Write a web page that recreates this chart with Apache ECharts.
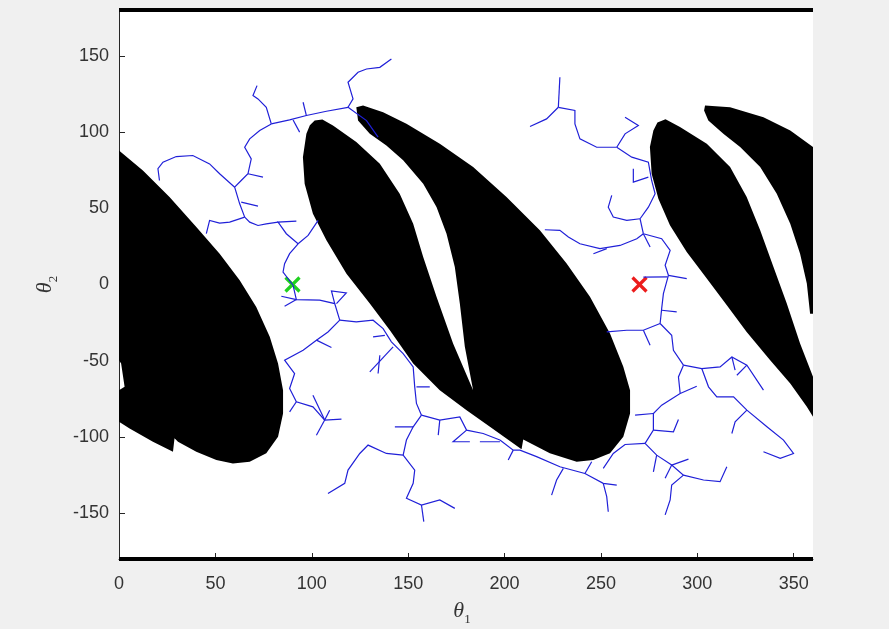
<!DOCTYPE html>
<html>
<head>
<meta charset="utf-8">
<script src="https://cdn.jsdelivr.net/npm/echarts@6/dist/echarts.min.js"></script>
<style>
  html, body { margin: 0; padding: 0; background: #f0f0f0; }
  #chart { width: 889px; height: 629px; }
</style>
</head>
<body>
<div id="chart"></div>
<script>
// tick positions
const xTicks = [0, 50, 100, 150, 200, 250, 300, 350];
const yTicks = [-150, -100, -50, 0, 50, 100, 150];

// start / goal configurations
const startPoint = [90, 0];
const goalPoint = [270, 0];

// obstacle regions in (theta1, theta2)
const leftBlob = [
  [0, 87.9], [12.4, 74.8], [26.2, 57.3], [40.1, 37.7], [52.2, 20.2], [62.6, 2.8], [71.2, -14.7],
  [78.2, -34.3], [82.5, -51.8], [85.1, -69.3], [85.1, -84.6], [82.5, -99.8], [76.4, -110.7],
  [67.8, -116.2], [59.1, -117.3], [50.5, -115.1], [40.1, -109.7], [30.6, -103.1], [28.8, -100.9],
  [28.0, -109.7], [17.6, -103.1], [5.5, -94.4], [0, -90.0], [0, -69.3], [2.9, -67.1], [1.1, -51.8],
  [0, -49.6]
];
const middleBlob = [
  [105.5, 108.2], [101.5, 107.6], [99.0, 104.5], [97.2, 98.8], [95.4, 83.5], [96.3, 66.1], [100.6, 46.4], [107.6, 29.0], [118.0, 7.1],
  [130.1, -12.5], [140.5, -30.0], [152.6, -51.8], [166.4, -69.3], [180.3, -82.4], [192.4, -93.3],
  [208.8, -108.1], [209.7, -101.6], [223.5, -110.7], [237.4, -116.2], [246.0, -115.1], [254.7, -110.7],
  [261.6, -99.8], [265.1, -84.6], [265.1, -69.3], [261.6, -54.0], [254.7, -32.2], [244.3, -8.1],
  [232.2, 13.7], [218.3, 35.5], [201.0, 57.3], [183.7, 77.0], [166.4, 92.3], [149.1, 105.4],
  [137.0, 113.0], [126.6, 117.4], [123.1, 116.3],
  [124.0, 107.6], [130.1, 98.8], [138.7, 91.2], [147.4, 81.4], [157.8, 66.1], [164.7, 50.8],
  [169.9, 33.3], [174.2, 11.5], [176.8, -12.5], [179.4, -40.9], [183.7, -69.3],
  [173.3, -38.7], [164.7, -8.1], [157.8, 18.0], [152.6, 39.9], [145.6, 59.5], [135.3, 79.2],
  [123.1, 93.4], [111.0, 104.3]
];
const rightLobeOuter = [
  [304.0, 117.4], [317.0, 116.3], [334.3, 109.7], [348.2, 101.0], [360, 90.1], [360, -19.1],
  [358.5, -19.1], [356.8, 0.6], [353.3, 20.2], [348.2, 39.9], [341.2, 59.5], [332.6, 77.0],
  [322.2, 90.1], [313.5, 98.8], [305.7, 107.6], [303.5, 114.1]
];
const rightLobeInner = [
  [283.5, 108.4], [291.0, 103.2], [304.9, 92.3], [317.0, 77.0], [325.6, 57.3], [332.6, 35.5],
  [339.5, 11.5], [346.4, -12.5], [353.3, -38.7], [360, -60.5], [360, -86.7], [356.8, -80.2],
  [348.2, -64.9], [337.8, -49.6], [325.6, -31.1], [315.3, -13.6], [304.9, 3.9], [294.5, 21.3],
  [285.8, 38.8], [279.8, 56.3], [276.3, 72.6], [275.4, 90.1], [277.2, 101.0], [279.3, 106.2]
];
const obstacles = [leftBlob, middleBlob, rightLobeOuter, rightLobeInner];

// joint-limit rows at theta2 = +-180
const limitRows = [
  [[0, 180], [360, 180]],
  [[0, -180], [360, -180]]
];

// RRT tree branches
const treeBranches = [
  [[90.3, -0.5], [85.1, 8.2], [85.9, 13.6], [88.5, 20.2], [92.9, 26.7]],
  [[92.9, 26.7], [98.1, 32.2], [103.3, 42.0]],
  [[92.9, 26.7], [86.8, 33.3], [82.5, 40.9], [92.0, 41.6]],
  [[82.5, 40.9], [76.4, 39.8], [72.1, 38.7], [67.8, 40.9], [65.2, 44.2]],
  [[65.2, 44.2], [57.4, 40.9], [52.2, 40.3], [47.0, 42.0], [45.3, 33.3]],
  [[65.2, 44.2], [62.6, 52.9], [60.0, 63.8], [63.4, 68.2], [66.9, 72.6], [68.6, 82.4], [65.2, 90.0], [67.8, 95.5], [73.0, 101.0], [79.0, 105.3]],
  [[63.4, 54.0], [72.1, 51.4]],
  [[66.9, 72.6], [74.7, 70.4]],
  [[60.0, 63.8], [52.2, 72.6], [47.0, 79.1], [38.3, 84.6], [29.7, 83.9], [22.8, 80.2], [20.2, 75.9], [21.0, 68.2]],
  [[79.0, 105.3], [88.5, 107.9], [97.2, 110.8], [107.6, 113.6], [118.8, 116.2]],
  [[118.8, 116.2], [121.4, 121.7], [118.8, 132.6], [124.0, 139.2], [128.4, 141.3], [135.3, 142.4], [141.3, 147.9]],
  [[118.8, 116.2], [128.4, 107.5], [134.4, 96.6]],
  [[79.0, 105.3], [76.4, 116.2], [72.1, 121.7], [69.5, 123.9], [71.6, 130.4]],
  [[90.3, 107.9], [93.7, 99.9]],
  [[97.2, 110.8], [95.5, 119.5]],

  [[90.3, -0.5], [92.0, -9.9], [104.1, -10.3], [111.9, -12.5], [114.5, -23.4]],
  [[84.2, -7.7], [92.0, -9.9]],
  [[85.9, -14.3], [92.0, -9.9]],
  [[111.9, -12.5], [110.2, -4.2], [117.9, -5.5], [112.8, -12.5]],
  [[114.5, -23.4], [123.1, -24.5], [131.8, -23.4], [137.0, -28.9], [141.3, -37.6], [147.4, -45.3], [152.6, -54.0], [153.4, -67.1], [154.3, -78.0], [156.9, -85.7]],
  [[154.3, -67.1], [161.2, -67.1]],
  [[131.8, -34.4], [137.9, -33.3]],
  [[142.2, -40.9], [130.1, -57.3]],
  [[135.3, -46.4], [134.4, -58.4]],
  [[114.5, -23.4], [108.4, -31.1], [102.4, -36.5], [95.5, -43.1], [85.9, -49.6], [91.1, -58.4], [88.5, -68.2], [92.0, -76.9], [100.6, -80.2], [106.7, -88.9], [115.4, -88.3]],
  [[102.4, -36.5], [110.2, -41.3]],
  [[92.0, -76.9], [88.5, -83.5]],
  [[100.6, -72.6], [106.7, -88.9]],
  [[106.7, -88.9], [102.4, -98.8]],
  [[106.7, -88.9], [109.3, -82.4]],
  [[156.9, -85.7], [166.4, -88.9], [176.8, -86.8], [180.3, -95.5], [188.9, -97.7], [197.6, -102.0]],
  [[166.4, -88.9], [165.6, -98.8]],
  [[180.3, -95.5], [173.3, -103.1], [182.0, -103.1]],
  [[187.2, -103.1], [197.6, -103.1]],
  [[156.9, -85.7], [152.6, -93.3], [149.1, -102.0], [147.4, -111.9]],
  [[152.6, -93.3], [143.1, -93.3]],
  [[147.4, -111.9], [138.7, -110.8], [129.2, -105.3], [124.9, -110.8], [118.8, -121.7], [117.1, -130.4], [108.4, -137.0]],
  [[147.4, -111.9], [153.4, -121.7], [152.6, -130.4], [149.1, -140.2], [156.9, -144.6], [166.4, -141.3], [174.2, -146.8]],
  [[156.9, -144.6], [158.1, -155.5]],

  [[197.6, -102.0], [204.5, -108.6], [208.0, -108.6], [216.6, -112.9], [228.7, -119.5], [241.7, -123.9], [251.2, -130.4], [258.2, -131.5]],
  [[241.7, -123.9], [245.2, -116.2]],
  [[251.2, -130.4], [253.0, -139.1], [253.8, -149.0]],
  [[230.5, -120.6], [227.0, -128.2], [224.4, -138.1]],
  [[204.5, -108.6], [201.9, -115.1]],

  [[228.7, 135.9], [227.9, 116.2]],
  [[227.9, 116.2], [221.8, 108.6], [213.2, 103.6]],
  [[227.9, 116.2], [236.5, 114.1], [236.5, 105.3], [239.1, 95.5], [247.8, 90.0], [258.2, 90.0]],
  [[258.2, 90.0], [262.5, 98.8], [269.4, 104.2], [262.5, 109.7]],
  [[258.2, 90.0], [266.0, 83.5], [274.6, 80.2], [276.3, 68.2], [278.1, 59.5], [274.6, 50.7], [270.3, 43.1]],
  [[274.6, 70.4], [266.8, 67.1], [266.8, 75.9]],
  [[270.3, 43.1], [263.4, 42.0], [256.4, 44.2], [253.8, 50.7], [255.6, 58.4]],
  [[270.3, 43.1], [272.0, 33.3]],
  [[272.0, 33.3], [275.5, 24.6]],
  [[272.0, 33.3], [281.5, 30.0], [285.9, 22.4], [283.3, 12.6], [285.0, 6.0], [282.4, -6.0], [281.5, -15.8], [280.7, -25.6]],
  [[285.0, 6.0], [294.5, 3.8]],
  [[284.6, 5.0], [272.0, 4.9]],
  [[281.5, -16.9], [289.3, -18.0]],
  [[272.0, 33.3], [268.6, 30.0], [259.9, 25.6], [249.5, 23.5], [239.1, 26.7], [233.1, 31.1], [228.7, 35.5], [220.9, 35.9]],
  [[253.0, 23.5], [246.1, 20.2]],
  [[280.7, -25.6], [272.0, -30.0], [263.4, -30.0], [253.0, -31.1]],
  [[272.0, -30.0], [275.5, -39.8]],
  [[280.7, -25.6], [286.7, -33.3], [287.6, -43.1], [292.8, -52.9]],
  [[292.8, -52.9], [302.3, -55.1], [311.8, -54.0], [317.9, -47.5], [325.7, -52.9], [334.3, -69.3]],
  [[317.9, -47.5], [319.6, -56.2]],
  [[325.7, -52.9], [320.5, -59.5]],
  [[302.3, -55.1], [305.8, -67.1], [310.1, -73.7], [318.8, -73.7], [325.7, -82.4], [336.1, -93.3], [344.7, -102.0], [349.9, -110.8], [343.0, -114.0], [334.3, -109.7]],
  [[325.7, -82.4], [319.6, -90.0], [317.9, -97.7]],
  [[292.8, -52.9], [290.2, -60.6], [291.1, -71.5], [281.5, -79.1], [277.2, -84.6], [277.2, -95.5], [272.9, -104.2]],
  [[291.1, -71.5], [299.7, -66.7]],
  [[277.2, -84.6], [267.7, -85.7]],
  [[277.2, -95.5], [287.6, -96.6], [290.2, -88.5]],
  [[272.9, -104.2], [262.5, -104.9], [256.4, -110.8], [251.2, -120.6]],
  [[272.9, -104.2], [278.9, -111.9], [286.7, -118.4], [292.8, -125.0], [303.2, -128.2], [311.8, -129.3], [315.3, -119.5]],
  [[278.9, -111.9], [277.2, -122.8]],
  [[286.7, -118.4], [283.3, -127.1]],
  [[286.7, -118.4], [295.4, -114.5]],
  [[292.8, -125.0], [286.7, -131.5], [285.9, -141.3], [283.3, -151.1]]
];

const textColor = '#333333';
const axisColor = '#262626';

function crossMarker(color) {
  return function (params, api) {
    const c = api.coord([api.value(0), api.value(1)]);
    const h = 7;
    const style = { stroke: color, lineWidth: 3.2 };
    return {
      type: 'group',
      children: [
        { type: 'line', shape: { x1: c[0] - h, y1: c[1] - h, x2: c[0] + h, y2: c[1] + h }, style: style },
        { type: 'line', shape: { x1: c[0] - h, y1: c[1] + h, x2: c[0] + h, y2: c[1] - h }, style: style }
      ]
    };
  };
}

const chart = echarts.init(document.getElementById('chart'), null, { renderer: 'canvas' });

chart.setOption({
  backgroundColor: '#f0f0f0',
  animation: false,
  grid: {
    left: 119, top: 10, width: 694, height: 549,
    show: true, backgroundColor: '#ffffff', borderWidth: 0,
    outerBoundsMode: 'none'
  },
  xAxis: {
    type: 'value', min: 0, max: 360,
    axisLine: { show: true, onZero: false, lineStyle: { color: axisColor, width: 1 } },
    axisTick: { show: true, inside: true, length: 6, customValues: xTicks, lineStyle: { color: axisColor } },
    axisLabel: { customValues: xTicks, color: textColor, fontSize: 18, fontFamily: 'Liberation Sans, Arial, sans-serif', margin: 16 },
    splitLine: { show: false },
    name: '{t|θ}{s|1}',
    nameLocation: 'middle',
    nameGap: 40,
    nameTextStyle: {
      padding: [0, 8, 0, 0],
      rich: {
        t: { fontFamily: 'Liberation Serif, DejaVu Serif, serif', fontStyle: 'italic', fontSize: 22, color: textColor, lineHeight: 24 },
        s: { fontFamily: 'Liberation Serif, DejaVu Serif, serif', fontSize: 13, color: textColor, verticalAlign: 'bottom', lineHeight: 24, padding: [0, 0, -3, 0] }
      }
    }
  },
  yAxis: {
    type: 'value', min: -180, max: 180,
    axisLine: { show: true, onZero: false, lineStyle: { color: axisColor, width: 1 } },
    axisTick: { show: true, inside: true, length: 6, customValues: yTicks, lineStyle: { color: axisColor } },
    axisLabel: { customValues: yTicks, color: textColor, fontSize: 18, fontFamily: 'Liberation Sans, Arial, sans-serif', margin: 10 },
    splitLine: { show: false },
    name: '{t|θ}{s|2}',
    nameLocation: 'middle',
    nameRotate: 90,
    nameGap: 62,
    nameTextStyle: {
      rich: {
        t: { fontFamily: 'Liberation Serif, DejaVu Serif, serif', fontStyle: 'italic', fontSize: 22, color: textColor, lineHeight: 24 },
        s: { fontFamily: 'Liberation Serif, DejaVu Serif, serif', fontSize: 13, color: textColor, verticalAlign: 'bottom', lineHeight: 24, padding: [0, 0, -3, 0] }
      }
    }
  },
  series: [
    {
      type: 'custom',
      coordinateSystem: 'cartesian2d',
      z: 2,
      silent: true,
      data: obstacles.map(function (poly) { return poly[0]; }),
      renderItem: function (params, api) {
        const pts = obstacles[params.dataIndex].map(function (p) { return api.coord(p); });
        return { type: 'polygon', shape: { points: pts }, style: { fill: '#000000' } };
      }
    },
    {
      type: 'lines',
      coordinateSystem: 'cartesian2d',
      polyline: true,
      clip: false,
      z: 3,
      silent: true,
      lineStyle: { color: '#000000', width: 4, opacity: 1 },
      data: limitRows.map(function (r) { return { coords: r }; })
    },
    {
      type: 'custom',
      coordinateSystem: 'cartesian2d',
      z: 4,
      silent: true,
      data: [startPoint],
      renderItem: crossMarker('#1fd11f')
    },
    {
      type: 'custom',
      coordinateSystem: 'cartesian2d',
      z: 4,
      silent: true,
      data: [goalPoint],
      renderItem: crossMarker('#ec1c1c')
    },
    {
      type: 'lines',
      coordinateSystem: 'cartesian2d',
      polyline: true,
      z: 5,
      silent: true,
      lineStyle: { color: '#2020d8', width: 1.2, opacity: 1 },
      data: treeBranches.map(function (b) { return { coords: b }; })
    }
  ]
});
</script>
</body>
</html>
